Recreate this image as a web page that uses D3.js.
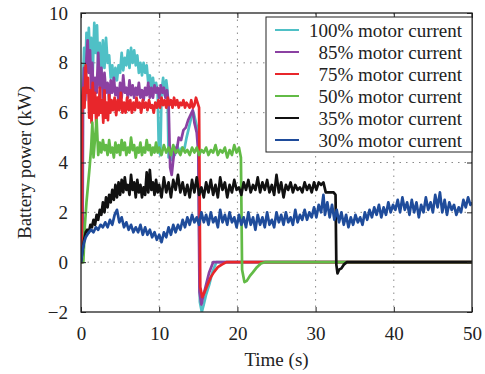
<!DOCTYPE html>
<html>
<head>
<meta charset="utf-8">
<script src="https://cdn.jsdelivr.net/npm/d3@7"></script>
<style>
  body { margin: 0; background: #fff; }
  svg text { font-family: "Liberation Serif", "Times New Roman", Times, "DejaVu Serif", serif !important; fill: #222; }
</style>
</head>
<body>
<div id="chart"></div>
<script>
// Legend labels and colours (same order as drawn)
var seriesNames = ["100% motor current", "85% motor current", "75% motor current",
                   "50% motor current", "35% motor current", "30% motor current"];
var seriesColors = ["#4fc0c6", "#8b41a2", "#e8262b", "#62bb46", "#111111", "#1f4c9b"];

var xTicks = [0, 10, 20, 30, 40, 50];
var yTicks = [-2, 0, 2, 4, 6, 8, 10];

// [time (s), battery power (kW)]
var cur100 = [[0,0],[0.2,0],[0.25,7.2],[0.4,8.6],[0.55,7.4],[0.7,9.2],[0.85,8.0],[1.0,9.4],[1.15,8.2],[1.3,9.0],[1.5,7.6],[1.7,9.6],[1.9,8.4],[2.05,9.5],[2.2,7.8],[2.4,8.8],[2.6,7.6],[2.8,8.9],[3.0,7.8],[3.2,9.0],[3.4,8.0],[3.6,8.3],[3.8,7.4],[4.0,7.9],[4.2,7.2],[4.4,7.8],[4.6,7.3],[4.8,7.9],[5.0,7.6],[5.2,8.4],[5.4,7.7],[5.6,8.2],[5.8,7.9],[6.0,8.5],[6.2,7.8],[6.4,8.6],[6.6,8.0],[6.8,8.5],[7.0,7.9],[7.2,8.3],[7.4,7.6],[7.6,8.0],[7.8,7.5],[8.0,8.0],[8.2,7.6],[8.4,7.9],[8.6,7.2],[8.8,7.5],[9.0,7.0],[9.2,7.4],[9.4,6.9],[9.6,7.2],[9.8,6.8],[9.95,4.5],[10.15,4.3],[10.3,6.8],[10.5,7.4],[10.7,6.7],[10.9,7.3],[11.05,6.9],[11.2,4.2],[11.4,4.5],[11.6,4.1],[11.8,4.6],[12.0,4.3],[12.3,4.7],[12.6,4.4],[12.9,4.6],[13.2,4.5],[13.5,5.0],[13.8,5.4],[14.1,5.8],[14.4,6.0],[14.7,5.6],[15.0,5.2],[15.2,-1.6],[15.45,-2.0],[15.7,-1.7],[16.0,-1.3],[16.4,-0.9],[16.8,-0.4],[17.3,0],[50,0]];

var cur85 = [[0,0],[0.2,0],[0.25,6.8],[0.4,7.8],[0.55,6.5],[0.7,8.2],[0.85,8.9],[1.0,7.6],[1.15,8.5],[1.3,6.9],[1.45,8.0],[1.6,6.6],[1.8,7.4],[2.0,6.8],[2.2,8.4],[2.4,7.0],[2.6,7.8],[2.8,6.6],[3.0,7.6],[3.2,6.8],[3.4,7.2],[3.6,6.5],[3.8,7.3],[4.0,6.8],[4.2,7.4],[4.4,6.7],[4.6,7.0],[4.8,6.5],[5.0,7.2],[5.2,6.6],[5.4,7.5],[5.6,6.8],[5.8,7.0],[6.0,6.6],[6.2,7.3],[6.4,6.7],[6.6,7.1],[6.8,6.6],[7.0,7.0],[7.2,6.7],[7.4,7.2],[7.6,6.6],[7.8,6.9],[8.0,6.5],[8.2,7.0],[8.4,6.7],[8.6,7.2],[8.8,6.6],[9.0,7.0],[9.2,6.6],[9.4,7.1],[9.6,6.8],[9.8,7.0],[10.0,6.6],[10.2,7.1],[10.4,6.8],[10.6,7.0],[10.8,6.6],[11.0,6.9],[11.2,6.4],[11.4,3.8],[11.6,3.5],[11.8,4.1],[12.0,4.6],[12.2,4.4],[12.5,5.0],[12.8,4.9],[13.1,5.3],[13.4,5.4],[13.7,5.7],[14.0,5.9],[14.3,6.1],[14.5,5.6],[14.8,5.2],[15.0,4.4],[15.15,-1.2],[15.4,-1.7],[15.6,-1.4],[16.0,-0.9],[16.4,-0.4],[16.9,0],[50,0]];

var cur75 = [[0,0],[0.1,0],[0.15,6.6],[0.3,7.0],[0.45,6.2],[0.6,7.9],[0.75,6.8],[0.9,7.4],[1.05,5.8],[1.2,6.9],[1.35,5.6],[1.5,7.2],[1.65,6.0],[1.8,6.8],[1.95,5.5],[2.1,6.6],[2.25,5.9],[2.4,7.0],[2.55,6.0],[2.7,6.5],[2.85,5.6],[3.0,6.9],[3.15,5.8],[3.3,6.4],[3.45,5.7],[3.6,6.7],[3.75,6.0],[3.9,6.5],[4.1,6.1],[4.3,6.6],[4.5,5.9],[4.7,6.5],[4.9,6.1],[5.1,6.8],[5.3,6.0],[5.5,6.4],[5.7,6.0],[5.9,6.6],[6.1,6.1],[6.3,6.5],[6.5,6.0],[6.7,6.4],[6.9,6.1],[7.1,6.6],[7.3,6.2],[7.5,6.4],[7.7,6.0],[7.9,6.5],[8.1,6.2],[8.3,6.4],[8.5,6.1],[8.7,6.5],[8.9,6.2],[9.1,6.3],[9.3,6.0],[9.5,6.4],[9.7,6.2],[9.9,6.5],[10.1,6.2],[10.3,6.6],[10.5,6.3],[10.7,6.5],[10.9,6.2],[11.1,6.6],[11.3,6.3],[11.5,6.5],[11.7,6.2],[11.9,6.6],[12.1,6.3],[12.3,6.5],[12.5,6.2],[12.7,6.4],[12.9,6.3],[13.1,6.5],[13.3,6.2],[13.5,6.4],[13.7,6.3],[13.9,6.2],[14.1,6.5],[14.3,6.2],[14.5,6.3],[14.7,6.6],[14.9,6.4],[15.1,6.2],[15.25,-1.0],[15.5,-1.4],[15.8,-1.2],[16.2,-0.9],[16.6,-0.6],[17.0,-0.4],[17.5,-0.2],[18.0,-0.1],[18.6,0],[50,0]];

var cur50 = [[0,0],[0.3,0],[0.5,1.5],[0.7,2.4],[0.9,3.1],[1.1,3.8],[1.3,4.6],[1.45,5.6],[1.6,4.2],[1.8,5.0],[2.0,5.7],[2.2,4.3],[2.4,4.8],[2.6,4.4],[2.8,4.9],[3.0,4.5],[3.2,4.7],[3.4,4.3],[3.6,4.9],[3.8,4.4],[4.0,4.6],[4.2,4.2],[4.4,4.8],[4.6,4.4],[4.8,4.7],[5.0,4.3],[5.2,4.9],[5.4,4.5],[5.6,4.8],[5.8,4.3],[6.0,4.6],[6.2,4.4],[6.4,5.0],[6.6,4.5],[6.8,4.7],[7.0,4.2],[7.2,4.6],[7.4,4.4],[7.6,4.8],[7.8,4.3],[8.0,4.6],[8.2,4.4],[8.4,4.9],[8.6,4.5],[8.8,4.7],[9.0,4.3],[9.2,4.6],[9.4,4.4],[9.6,4.8],[9.8,4.4],[10.0,4.6],[10.3,4.3],[10.6,4.7],[10.9,4.4],[11.2,4.6],[11.5,4.3],[11.8,4.7],[12.1,4.4],[12.4,4.5],[12.7,4.3],[13.0,4.6],[13.3,4.4],[13.6,4.5],[13.9,4.3],[14.2,4.6],[14.5,4.4],[14.8,4.6],[15.1,4.3],[15.4,4.5],[15.7,4.4],[16.0,4.6],[16.3,4.3],[16.6,4.5],[16.9,4.4],[17.2,4.7],[17.5,4.3],[17.8,4.5],[18.1,4.4],[18.4,4.6],[18.7,4.2],[19.0,4.5],[19.3,4.3],[19.6,4.7],[19.9,4.4],[20.2,4.6],[20.45,4.2],[20.6,-0.3],[20.9,-0.8],[21.2,-0.75],[21.6,-0.55],[22.0,-0.4],[22.5,-0.2],[23.0,-0.05],[23.5,0],[50,0]];

var cur35 = [[0,0],[0.2,0.5],[0.4,0.9],[0.6,1.2],[0.8,1.3],[1.0,1.2],[1.2,1.5],[1.4,1.4],[1.6,1.7],[1.8,1.5],[2.0,1.9],[2.2,1.7],[2.4,2.1],[2.6,1.9],[2.8,2.4],[3.0,2.0],[3.2,2.6],[3.4,2.2],[3.6,2.7],[3.8,2.4],[4.0,2.9],[4.2,2.5],[4.4,3.1],[4.6,2.6],[4.8,3.2],[5.0,2.7],[5.2,3.3],[5.4,2.8],[5.6,3.4],[5.8,2.9],[6.0,3.1],[6.2,2.7],[6.4,3.5],[6.6,2.9],[6.8,3.2],[7.0,2.6],[7.2,3.3],[7.4,2.8],[7.6,3.1],[7.8,2.6],[8.0,3.0],[8.2,2.7],[8.4,3.6],[8.6,2.8],[8.8,3.7],[9.0,2.9],[9.2,3.2],[9.4,2.7],[9.6,3.3],[9.8,2.8],[10.0,3.1],[10.3,2.6],[10.6,3.4],[10.9,2.8],[11.2,3.2],[11.5,2.6],[11.8,3.3],[12.1,2.9],[12.4,3.5],[12.7,2.8],[13.0,3.2],[13.3,2.7],[13.6,3.1],[13.9,2.6],[14.2,3.3],[14.5,2.8],[14.8,3.4],[15.1,2.7],[15.4,3.0],[15.7,2.6],[16.0,3.2],[16.3,2.8],[16.6,3.3],[16.9,2.7],[17.2,3.1],[17.5,2.6],[17.8,3.4],[18.1,2.9],[18.4,3.2],[18.7,2.6],[19.0,3.1],[19.3,2.8],[19.6,3.3],[19.9,2.9],[20.2,3.0],[20.5,2.7],[20.8,3.2],[21.1,2.9],[21.4,3.3],[21.7,2.8],[22.0,3.1],[22.3,2.9],[22.6,3.4],[22.9,2.8],[23.2,3.2],[23.5,2.9],[23.8,3.3],[24.1,2.8],[24.4,3.1],[24.7,2.7],[25.0,3.5],[25.3,2.8],[25.6,3.2],[25.9,2.6],[26.2,3.1],[26.5,2.9],[26.8,3.2],[27.1,2.8],[27.4,3.1],[27.7,2.9],[28.0,3.0],[28.3,2.8],[28.6,3.2],[28.9,2.9],[29.2,3.1],[29.5,2.8],[29.8,3.2],[30.1,2.9],[30.4,3.2],[30.7,3.1],[31.0,3.2],[31.3,2.8],[31.8,2.8],[32.3,2.8],[32.55,2.7],[32.65,-0.1],[32.8,-0.45],[33.0,-0.3],[33.3,-0.25],[33.6,-0.1],[34.0,0],[50,0]];

var cur30 = [[0,0],[0.2,0.5],[0.4,0.8],[0.6,1.0],[0.8,1.1],[1.0,1.2],[1.3,1.3],[1.6,1.2],[1.9,1.4],[2.2,1.3],[2.5,1.5],[2.8,1.4],[3.1,1.6],[3.4,1.4],[3.7,1.7],[4.0,1.5],[4.3,1.9],[4.6,2.1],[4.9,1.6],[5.2,1.8],[5.5,1.4],[5.8,1.6],[6.1,1.3],[6.4,1.5],[6.7,1.2],[7.0,1.4],[7.3,1.2],[7.6,1.5],[7.9,1.1],[8.2,1.4],[8.5,1.1],[8.8,1.3],[9.1,1.0],[9.4,1.2],[9.7,0.9],[10.0,1.1],[10.3,0.8],[10.6,1.2],[10.9,1.0],[11.2,1.4],[11.5,1.1],[11.8,1.5],[12.1,1.2],[12.4,1.5],[12.7,1.3],[13.0,1.7],[13.3,1.4],[13.6,1.8],[13.9,1.5],[14.2,1.9],[14.5,1.6],[14.8,1.8],[15.1,1.5],[15.4,2.0],[15.7,1.6],[16.0,1.9],[16.3,1.5],[16.6,2.0],[16.9,1.6],[17.2,1.8],[17.5,1.4],[17.8,2.1],[18.1,1.6],[18.4,1.9],[18.7,1.5],[19.0,2.0],[19.3,1.6],[19.6,1.8],[19.9,1.4],[20.2,1.9],[20.5,1.5],[20.8,1.8],[21.1,1.4],[21.4,2.0],[21.7,1.5],[22.0,1.8],[22.3,1.3],[22.6,1.9],[22.9,1.5],[23.2,1.8],[23.5,1.4],[23.8,2.0],[24.1,1.5],[24.4,1.7],[24.7,1.4],[25.0,2.0],[25.3,1.6],[25.6,1.9],[25.9,1.5],[26.2,2.0],[26.5,1.6],[26.8,1.8],[27.1,1.5],[27.4,2.1],[27.7,1.6],[28.0,1.9],[28.3,1.7],[28.6,2.1],[28.9,1.7],[29.2,2.0],[29.5,1.8],[29.8,2.2],[30.1,1.8],[30.4,2.3],[30.7,2.0],[31.0,2.7],[31.2,1.9],[31.5,2.4],[31.8,1.8],[32.1,2.3],[32.4,1.7],[32.7,2.1],[33.0,1.6],[33.3,2.0],[33.6,1.5],[33.9,1.9],[34.2,1.4],[34.5,1.8],[34.8,1.5],[35.1,1.9],[35.4,1.6],[35.7,1.8],[36.0,1.5],[36.3,2.0],[36.6,1.7],[36.9,2.1],[37.2,1.8],[37.5,2.2],[37.8,1.9],[38.1,2.3],[38.4,1.8],[38.7,2.2],[39.0,1.9],[39.3,2.4],[39.6,2.0],[39.9,2.3],[40.2,2.1],[40.5,2.5],[40.8,2.0],[41.1,2.6],[41.4,2.1],[41.7,2.4],[42.0,1.9],[42.3,2.5],[42.6,2.0],[42.9,2.4],[43.2,1.8],[43.5,2.3],[43.8,2.0],[44.1,2.6],[44.4,2.1],[44.7,2.4],[45.0,2.0],[45.3,2.7],[45.6,2.2],[45.9,2.8],[46.2,2.0],[46.5,2.5],[46.8,1.9],[47.1,2.4],[47.4,2.1],[47.7,2.3],[48.0,1.9],[48.3,2.2],[48.6,2.0],[48.9,2.5],[49.2,2.2],[49.5,2.6],[49.8,2.3],[50,2.4]];

var seriesData = [cur100, cur85, cur75, cur50, cur35, cur30];

function init() {

    var width = 485;
    var height = 374;
    var left = 81, right = 472, top = 13, bottom = 312;
    var serif = "'Liberation Serif', 'Times New Roman', Times, 'DejaVu Serif', serif";

    var svg = d3.select("#chart")
        .append("svg")
        .attr("width", width)
        .attr("height", height)
        .attr("font-family", serif);

    var x = d3.scaleLinear().domain([0, 50]).range([left, right]);
    var y = d3.scaleLinear().domain([-2, 10]).range([bottom, top]);

    // Dotted grid
    var grid = svg.append("g")
        .attr("stroke", "#8a8a8a")
        .attr("stroke-width", 1)
        .attr("stroke-dasharray", "1.5,5");
    grid.selectAll(".gx")
        .data(xTicks.slice(1, -1))
        .enter().append("line")
        .attr("x1", function (d) { return x(d); })
        .attr("x2", function (d) { return x(d); })
        .attr("y1", top).attr("y2", bottom);
    grid.selectAll(".gy")
        .data(yTicks.slice(1, -1))
        .enter().append("line")
        .attr("y1", function (d) { return y(d); })
        .attr("y2", function (d) { return y(d); })
        .attr("x1", left).attr("x2", right);

    // Clip for the series
    svg.append("clipPath").attr("id", "plotclip")
        .append("rect")
        .attr("x", left).attr("y", top)
        .attr("width", right - left).attr("height", bottom - top);

    var line = d3.line()
        .x(function (d) { return x(d[0]); })
        .y(function (d) { return y(d[1]); });

    svg.append("g")
        .attr("clip-path", "url(#plotclip)")
        .selectAll("path")
        .data(seriesData)
        .enter().append("path")
        .attr("d", line)
        .attr("fill", "none")
        .attr("stroke", function (d, i) { return seriesColors[i]; })
        .attr("stroke-width", 2.7)
        .attr("stroke-linejoin", "round");

    // Axes, ticks pointing inward (box style)
    var tickLen = 5;
    var fontSize = "19px";
    svg.append("g")
        .attr("transform", "translate(0," + bottom + ")")
        .call(d3.axisBottom(x).tickValues(xTicks).tickSize(-tickLen).tickPadding(15))
        .call(styleAxis);
    svg.append("g")
        .attr("transform", "translate(0," + top + ")")
        .call(d3.axisTop(x).tickValues(xTicks).tickSize(-tickLen).tickFormat(""))
        .call(styleAxis);
    svg.append("g")
        .attr("transform", "translate(" + left + ",0)")
        .call(d3.axisLeft(y).tickValues(yTicks).tickSize(-tickLen).tickPadding(13)
            .tickFormat(function (d) { return d < 0 ? "\u2212" + Math.abs(d) : d; }))
        .call(styleAxis);
    svg.append("g")
        .attr("transform", "translate(" + right + ",0)")
        .call(d3.axisRight(y).tickValues(yTicks).tickSize(-tickLen).tickFormat(""))
        .call(styleAxis);

    function styleAxis(g) {
        g.attr("font-family", serif);
        g.select(".domain").remove();
        g.selectAll(".tick line").attr("stroke", "#222").attr("stroke-width", 1);
        g.selectAll(".tick text")
            .attr("fill", "#222")
            .style("font-size", fontSize);
    }

    // Plot box
    svg.append("rect")
        .attr("x", left).attr("y", top)
        .attr("width", right - left).attr("height", bottom - top)
        .attr("fill", "none")
        .attr("stroke", "#222")
        .attr("stroke-width", 1.3);

    // Axis titles
    svg.append("text")
        .attr("x", (left + right) / 2)
        .attr("y", 366)
        .attr("text-anchor", "middle")
        .style("font-size", fontSize)
        .text("Time (s)");
    svg.append("text")
        .attr("transform", "translate(31," + (top + bottom) / 2 + ") rotate(-90)")
        .attr("text-anchor", "middle")
        .style("font-size", fontSize)
        .text("Battery power (kW)");

    // Legend
    var legend = svg.append("g");
    legend.append("rect")
        .attr("x", 266).attr("y", 17)
        .attr("width", right - 266).attr("height", 135)
        .attr("fill", "#fff")
        .attr("stroke", "#222")
        .attr("stroke-width", 1);
    var rows = legend.selectAll(".row")
        .data(seriesNames)
        .enter().append("g")
        .attr("transform", function (d, i) { return "translate(0," + (30 + i * 22) + ")"; });
    rows.append("line")
        .attr("x1", 275).attr("x2", 299)
        .attr("stroke", function (d, i) { return seriesColors[i]; })
        .attr("stroke-width", 2);
    rows.append("text")
        .attr("x", 462)
        .attr("dy", "0.35em")
        .attr("text-anchor", "end")
        .style("font-size", fontSize)
        .text(function (d) { return d; });
}

window.onload = init;
</script>
</body>
</html>
